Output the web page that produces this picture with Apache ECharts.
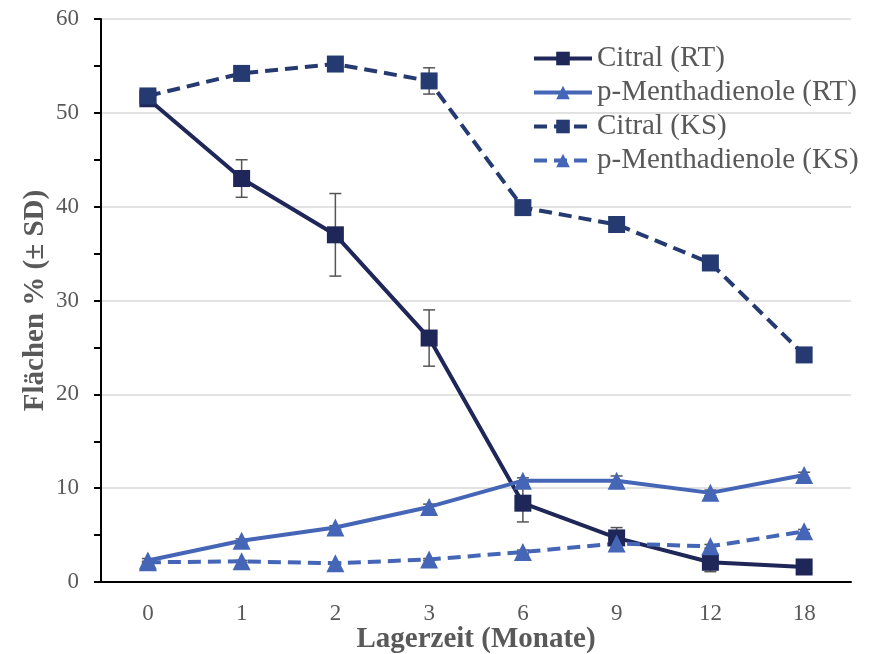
<!DOCTYPE html>
<html>
<head>
<meta charset="utf-8">
<script src="https://cdn.jsdelivr.net/npm/echarts@6/dist/echarts.min.js"></script>
<style>
  html, body { margin: 0; padding: 0; background: #fff; }
  #chart { width: 869px; height: 654px; }
</style>
</head>
<body>
<div id="chart"></div>
<script>
// Lagerzeit (Monate)
const months = ['0', '1', '2', '3', '6', '9', '12', '18']

// Flächen %
const citralRT = [51.5, 43.0, 37.0, 26.0, 8.4, 4.7, 2.1, 1.6]
const citralRTSD = [0.3, 2.0, 4.4, 3.0, 2.0, 1.1, 1.0, 0.3]
const menthRT = [2.3, 4.4, 5.8, 8.0, 10.8, 10.8, 9.5, 11.4]
const menthRTSD = [0.2, 0.2, 0.2, 0.3, 0.3, 0.5, 0.3, 0.3]
const citralKS = [51.8, 54.2, 55.2, 53.4, 39.9, 38.1, 34.0, 24.2]
const citralKSSD = [0.3, 0.3, 0.3, 1.4, 0.3, 0.3, 0.3, 0.3]
const menthKS = [2.1, 2.2, 2.0, 2.4, 3.2, 4.1, 3.8, 5.4]
const menthKSSD = [0.1, 0.1, 0.1, 0.1, 0.2, 0.2, 0.2, 0.2]

const navy = '#1f2658'
const navyKS = '#243a70'
const blue = '#4566b6'
const grey = '#595959'
const font = '"Liberation Serif", "DejaVu Serif", serif'

const chart = echarts.init(document.getElementById('chart'))

// Fehlerbalken (± SD) als custom series
const errorSeries = (values, sd) => ({
  type: 'custom',
  z: 1,
  silent: true,
  data: values.map((v, i) => [i, v - sd[i], v + sd[i]]),
  renderItem: (params, api) => {
    const lo = api.coord([api.value(0), api.value(1)])
    const hi = api.coord([api.value(0), api.value(2)])
    const w = 6
    const style = { stroke: '#555', lineWidth: 1.5 }
    return {
      type: 'group',
      children: [
        { type: 'line', shape: { x1: lo[0], y1: lo[1], x2: hi[0], y2: hi[1] }, style },
        { type: 'line', shape: { x1: lo[0] - w, y1: lo[1], x2: lo[0] + w, y2: lo[1] }, style },
        { type: 'line', shape: { x1: hi[0] - w, y1: hi[1], x2: hi[0] + w, y2: hi[1] }, style }
      ]
    }
  }
})

const lineSeries = (name, values, color, symbol, dashed) => ({
  name,
  type: 'line',
  z: 3,
  data: values,
  symbol,
  symbolSize: symbol === 'rect' ? 17 : 18,
  itemStyle: { color },
  lineStyle: {
    color,
    width: 4,
    type: dashed ? [13, 7] : 'solid'
  }
})

const option = {
  animation: false,
  grid: { left: 101, right: 18, top: 19, bottom: 72, outerBoundsMode: 'none' },
  legend: {
    orient: 'vertical',
    left: 532,
    top: 44,
    padding: 0,
    itemWidth: 58,
    itemHeight: 17,
    itemGap: 5,
    lineStyle: { width: 4 },
    textStyle: { fontFamily: font, fontSize: 29, color: grey, lineHeight: 28 },
    data: ['Citral (RT)', 'p-Menthadienole (RT)', 'Citral (KS)', 'p-Menthadienole (KS)']
  },
  xAxis: {
    type: 'category',
    data: months,
    name: 'Lagerzeit (Monate)',
    nameLocation: 'middle',
    nameGap: 43,
    nameMoveOverlap: false,
    nameTextStyle: { fontFamily: font, fontSize: 29, fontWeight: 'bold', color: grey },
    axisLine: { lineStyle: { color: '#000', width: 2 } },
    axisTick: { alignWithLabel: true, length: 6, lineStyle: { color: '#000', width: 2 } },
    axisLabel: { fontFamily: font, fontSize: 23, color: grey, margin: 20 }
  },
  yAxis: {
    type: 'value',
    min: 0,
    max: 60,
    interval: 10,
    name: 'Flächen % (± SD)',
    nameLocation: 'middle',
    nameGap: 51,
    nameMoveOverlap: false,
    nameTextStyle: { fontFamily: font, fontSize: 29, fontWeight: 'bold', color: grey },
    axisLine: { show: true, lineStyle: { color: '#000', width: 2 } },
    axisTick: { show: true, length: 7, lineStyle: { color: '#000', width: 2 } },
    minorTick: { show: true, splitNumber: 2, length: 7, lineStyle: { color: '#000', width: 2 } },
    axisLabel: { fontFamily: font, fontSize: 23, color: grey, margin: 22 },
    splitLine: { lineStyle: { color: '#d9d9d9', width: 1.5 } }
  },
  series: [
    errorSeries(citralRT, citralRTSD),
    errorSeries(menthRT, menthRTSD),
    errorSeries(citralKS, citralKSSD),
    errorSeries(menthKS, menthKSSD),
    lineSeries('Citral (RT)', citralRT, navy, 'rect', false),
    lineSeries('p-Menthadienole (RT)', menthRT, blue, 'triangle', false),
    lineSeries('Citral (KS)', citralKS, navyKS, 'rect', true),
    lineSeries('p-Menthadienole (KS)', menthKS, blue, 'triangle', true)
  ]
}

chart.setOption(option)
window.addEventListener('resize', () => chart.resize())
</script>
</body>
</html>
